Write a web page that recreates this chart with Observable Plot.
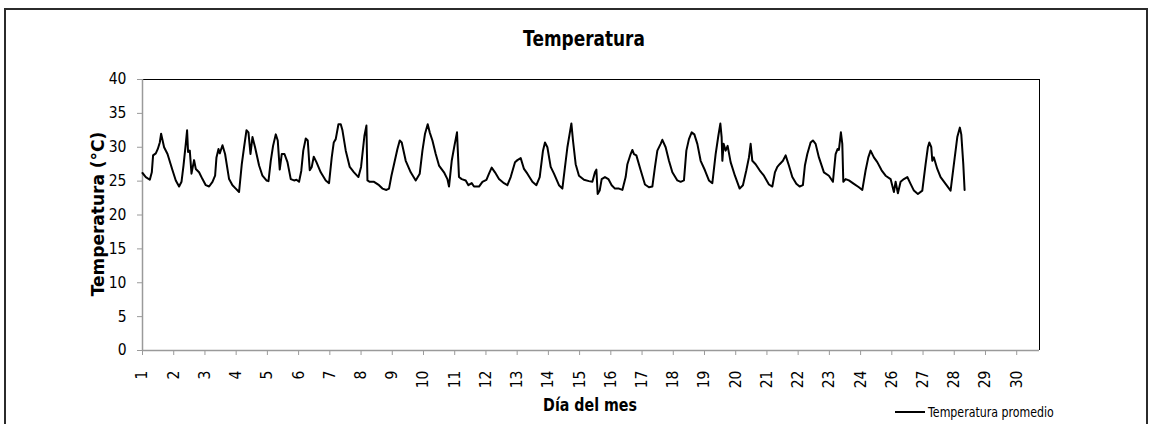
<!DOCTYPE html>
<html>
<head>
<meta charset="utf-8">
<script src="https://cdn.jsdelivr.net/npm/d3@7"></script>
<script src="https://cdn.jsdelivr.net/npm/@observablehq/plot@0.6"></script>
<style>
  body { margin: 0; background: #fff; }
  #wrap { position: relative; width: 1151px; height: 424px; overflow: hidden; background: #fff; font-family: "DejaVu Sans", sans-serif; color: #000; }
  #frame { position: absolute; left: 4px; top: 8px; width: 1144px; height: 440px; border: 2px solid #2b2b2b; box-sizing: border-box; }
  #chart { position: absolute; left: 0; top: 0; }
  .title { position: absolute; white-space: nowrap; font-weight: bold; }
  #title { left: 584px; top: 28px; font-size: 22px; line-height: 22px; transform: translateX(-50%) scaleX(0.77); }
  #xtitle { left: 590px; top: 396px; font-size: 18px; line-height: 18px; transform: translateX(-50%) scaleX(0.79); }
  #ytitle { left: 97.5px; top: 214px; font-size: 17px; line-height: 17px; transform: translate(-50%, -50%) rotate(-90deg); }
  #legline { position: absolute; left: 895px; top: 411px; width: 30px; height: 2px; background: #000; }
  #legtext { position: absolute; left: 928px; top: 404px; font-size: 14.6px; line-height: 15px; white-space: nowrap; transform-origin: left center; transform: scaleX(0.755); }
</style>
</head>
<body>
<div id="wrap">
  <div id="frame"></div>
  <div id="chart"></div>
  <div id="title" class="title">Temperatura</div>
  <div id="ytitle" class="title">Temperatura (°C)</div>
  <div id="xtitle" class="title">Día del mes</div>
  <div id="legline"></div>
  <div id="legtext">Temperatura promedio</div>
</div>
<script>
// Category tick positions and their labels (label "25" is absent in the original)
const tickPositions = [1,2,3,4,5,6,7,8,9,10,11,12,13,14,15,16,17,18,19,20,21,22,23,24,25,26,27,28,29];
const tickLabels = ["1","2","3","4","5","6","7","8","9","10","11","12","13","14","15","16","17","18","19","20","21","22","23","24","26","27","28","29","30"];
const yTicks = [0,5,10,15,20,25,30,35,40];

// Series: position along the day axis, and average temperature (°C)
const dayPos = [
1.000,1.106,1.234,1.298,1.339,1.426,1.490,1.554,1.596,1.692,1.801,1.961,2.066,2.172,2.249,2.313,2.386,2.428,2.460,2.515,
2.569,2.652,2.707,2.812,2.921,3.027,3.133,3.241,3.325,3.369,3.434,3.475,3.562,3.645,3.773,3.882,3.987,4.093,4.180,4.253,
4.330,4.394,4.458,4.522,4.605,4.734,4.842,4.970,5.035,5.108,5.182,5.268,5.332,5.396,5.460,5.547,5.643,5.749,5.854,5.931,
6.014,6.085,6.149,6.229,6.293,6.357,6.421,6.485,6.571,6.709,6.869,6.975,7.061,7.125,7.189,7.276,7.350,7.404,7.510,7.638,
7.775,7.916,8.000,8.108,8.172,8.205,8.278,8.416,8.576,8.685,8.813,8.896,8.973,9.056,9.165,9.239,9.303,9.431,9.591,9.751,
9.879,9.966,10.049,10.135,10.199,10.286,10.392,10.497,10.657,10.766,10.817,10.904,10.990,11.073,11.137,11.224,11.352,11.439,11.544,11.618,
11.778,11.887,12.015,12.098,12.184,12.290,12.418,12.578,12.687,12.793,12.931,13.008,13.113,13.219,13.328,13.488,13.616,13.722,13.827,13.891,
13.968,14.074,14.179,14.339,14.448,14.532,14.609,14.682,14.737,14.788,14.874,14.980,15.140,15.300,15.409,15.492,15.537,15.579,15.643,15.707,
15.812,15.921,16.027,16.133,16.261,16.370,16.475,16.530,16.635,16.690,16.741,16.818,16.956,17.093,17.221,17.330,17.414,17.490,17.596,17.650,
17.756,17.862,17.971,18.131,18.236,18.342,18.419,18.502,18.589,18.675,18.771,18.877,19.014,19.142,19.251,19.357,19.444,19.508,19.549,19.572,
19.613,19.677,19.741,19.837,19.975,20.126,20.231,20.340,20.424,20.478,20.532,20.638,20.766,20.904,21.064,21.173,21.256,21.333,21.407,21.512,
21.599,21.704,21.813,21.941,22.047,22.152,22.216,22.293,22.399,22.473,22.559,22.665,22.825,22.985,23.113,23.200,23.264,23.305,23.369,23.414,
23.446,23.520,23.626,23.786,23.946,24.055,24.161,24.247,24.320,24.426,24.535,24.673,24.801,24.961,25.067,25.121,25.195,25.281,25.387,25.496,
25.601,25.707,25.835,25.976,26.082,26.155,26.200,26.264,26.296,26.347,26.456,26.562,26.722,26.882,26.988,27.097,27.180,27.225,27.289,27.331
];
const tempC = [
26.2,25.6,25.2,26.3,28.8,29.1,29.75,30.7,32.0,30.0,29.0,26.6,25.1,24.2,24.9,27.3,30.5,32.5,29.3,29.5,
26.1,28.1,26.8,26.3,25.3,24.4,24.2,24.9,25.8,28.5,29.75,29.1,30.3,29.0,25.3,24.4,23.9,23.4,27.5,30.0,
32.5,32.2,29.0,31.5,30.0,27.3,25.8,25.1,25.0,28.0,30.2,31.9,31.0,26.7,29.0,29.0,27.8,25.3,25.1,25.2,
24.9,26.5,29.5,31.3,31.0,26.6,27.1,28.6,27.8,26.3,25.1,24.7,28.5,30.7,31.2,33.4,33.4,32.5,29.5,27.1,
26.3,25.6,27.1,31.7,33.2,25.1,24.9,24.9,24.4,23.9,23.7,23.9,25.8,27.5,29.75,31.0,30.7,28.0,26.3,25.1,
26.1,29.5,32.0,33.4,32.2,31.0,29.0,27.3,26.3,25.3,24.2,28.0,30.2,32.2,25.6,25.3,25.1,24.4,24.7,24.2,
24.2,24.9,25.2,26.1,27.0,26.3,25.3,24.7,24.4,25.6,27.8,28.1,28.4,26.8,26.1,24.9,24.4,25.6,29.5,30.7,
30.0,27.1,26.1,24.4,23.9,27.1,30.0,32.0,33.5,31.0,27.5,25.8,25.2,25.0,24.9,26.3,26.7,23.1,23.6,25.3,
25.6,25.3,24.4,23.9,23.9,23.7,25.6,27.5,29.0,29.6,29.0,28.8,26.6,24.5,24.1,24.2,27.1,29.5,30.5,31.1,
30.0,28.0,26.3,25.1,24.9,25.1,29.5,31.2,32.2,31.9,30.5,28.0,26.6,25.1,24.7,29.0,31.7,33.5,31.5,28.0,
30.5,29.5,30.2,27.8,25.8,23.9,24.4,26.6,28.5,30.5,28.0,27.5,26.6,25.8,24.5,24.2,26.3,27.1,27.5,28.0,
28.8,27.3,25.6,24.6,24.2,24.4,27.3,29.0,30.7,31.0,30.5,28.5,26.3,25.8,24.9,29.0,29.75,29.6,32.2,30.5,
24.9,25.3,25.1,24.6,24.1,23.7,26.6,28.5,29.5,28.5,27.8,26.6,25.8,25.3,23.4,24.9,23.2,24.9,25.3,25.6,
24.6,23.6,23.1,23.6,27.5,30.0,30.7,30.0,28.0,28.5,26.8,25.6,24.6,23.6,27.5,31.5,32.9,31.9,27.5,23.7
];

const xMax = 29.73;
const data = dayPos.map((d, i) => ({day: d, temp: tempC[i]}));

const chart = Plot.plot({
  width: 1151,
  height: 424,
  marginLeft: 142,
  marginRight: 112,
  marginTop: 79,
  marginBottom: 74,
  style: { fontFamily: "'DejaVu Sans Condensed', 'DejaVu Sans', sans-serif", fontSize: "15.5px", color: "#000", background: "transparent", overflow: "visible" },
  x: { domain: [1, xMax] },
  y: { domain: [0, 40] },
  marks: [
    Plot.ruleY([40], { stroke: "#000", strokeWidth: 1 }),
    Plot.ruleX([xMax], { stroke: "#000", strokeWidth: 1 }),
    Plot.axisY({ ticks: yTicks, tickSize: 5, tickPadding: 11, stroke: "#9a9a9a", fill: "#000", fontSize: 15.5, label: null }),
    Plot.axisX({ ticks: tickPositions, tickFormat: (d) => tickLabels[d - 1], tickRotate: -90, tickSize: 5, tickPadding: 15, stroke: "#9a9a9a", fill: "#000", fontSize: 15.5, label: null }),
    Plot.ruleX([1], { stroke: "#9a9a9a", strokeWidth: 1.5 }),
    Plot.ruleY([0], { stroke: "#9a9a9a", strokeWidth: 1.5 }),
    Plot.line(data, { x: "day", y: "temp", stroke: "#000", strokeWidth: 2, strokeLinejoin: "round" })
  ]
});
document.getElementById("chart").appendChild(chart);
</script>
</body>
</html>
